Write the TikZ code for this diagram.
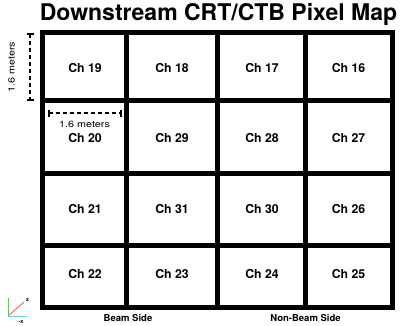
\documentclass[tikz,border=0pt]{standalone}
\usepackage{fontspec}
\setmainfont{TeX Gyre Heros}
\begin{document}
\begin{tikzpicture}[x=1pt,y=-1pt,
  frame/.style={line width=5pt},
  chlabel/.style={font=\fontsize{12.3}{12.3}\selectfont\bfseries, inner sep=0pt},
  dimline/.style={line width=2pt, dash pattern=on 4pt off 3pt},
  dimend/.style={line width=2pt},
  dimtext/.style={font=\fontsize{9}{9}\selectfont, inner sep=0pt},
  sidelabel/.style={font=\fontsize{9.5}{9.5}\selectfont\bfseries, inner sep=0pt, anchor=base}]
\useasboundingbox (0,0) rectangle (403,325);
\fill[white] (0,0) rectangle (403,325);
% title
\node[font=\fontsize{23}{23}\selectfont\bfseries, inner sep=0pt, anchor=base] (title) at (218.5,20) {Downstream CRT/CTB Pixel Map};
% grid
\coordinate (tl) at (42.5,32.5);
\coordinate (br) at (392.5,307.5);
\draw[frame] (tl) rectangle (br);
\foreach \x in {126.5,217.5,305.5} \draw[frame] (\x,32.5) -- (\x,307.5);
\foreach \y in {100.5,173.5,245} \draw[frame] (42.5,\y) -- (392.5,\y);
% labels
\node[chlabel] (c19) at (85,68) {Ch 19};
\node[chlabel] (c18) at (172,68) {Ch 18};
\node[chlabel] (c17) at (262,68) {Ch 17};
\node[chlabel] (c16) at (348.5,68) {Ch 16};
\node[chlabel] (c20) at (85,138) {Ch 20};
\node[chlabel] (c29) at (172,138) {Ch 29};
\node[chlabel] (c28) at (262,138) {Ch 28};
\node[chlabel] (c27) at (348.5,138) {Ch 27};
\node[chlabel] (c21) at (85,209) {Ch 21};
\node[chlabel] (c31) at (172,209) {Ch 31};
\node[chlabel] (c30) at (262,209) {Ch 30};
\node[chlabel] (c26) at (348.5,209) {Ch 26};
\node[chlabel] (c22) at (85,274) {Ch 22};
\node[chlabel] (c23) at (172,274) {Ch 23};
\node[chlabel] (c24) at (262,274) {Ch 24};
\node[chlabel] (c25) at (348.5,274) {Ch 25};
% vertical dimension
\coordinate (vt) at (30,33.5);
\coordinate (vb) at (30,99.5);
\draw[dimline] (vt) -- (vb);
\draw[dimend] ([xshift=-3.5pt]vt) -- ([xshift=3.5pt]vt);
\draw[dimend] ([xshift=-3.5pt]vb) -- ([xshift=3.5pt]vb);
\node[dimtext, rotate=90] (vtext) at (11.5,67) {\scalebox{1.2}[1]{1.6 meters}};
% horizontal dimension
\coordinate (hl) at (48.5,113);
\coordinate (hr) at (120.5,113);
\draw[dimline] (hl) -- (hr);
\draw[dimend] ([yshift=-3.5pt]hl) -- ([yshift=3.5pt]hl);
\draw[dimend] ([yshift=-3.5pt]hr) -- ([yshift=3.5pt]hr);
\node[dimtext] (htext) at (84.5,124) {\scalebox{1.2}[1]{1.6 meters}};
% side labels
\node[sidelabel] (beam) at (128,321.5) {Beam Side};
\node[sidelabel] (nonbeam) at (305.5,321.5) {Non-Beam Side};
% axes
\coordinate (o) at (8,316);
\coordinate (ay) at (8,298);
\coordinate (az) at (24,302);
\coordinate (ax) at (27,316);
\draw[line width=1pt, green!60!black!60] (o) -- (ay);
\draw[line width=1pt, red!60] (o) -- (az);
\draw[line width=1pt, cyan!60] (o) -- (ax);
\node[font=\fontsize{5.5}{5.5}\selectfont\bfseries, inner sep=0pt] (zl) at (27.5,300.5) {z};
\node[font=\fontsize{5.5}{5.5}\selectfont\bfseries, inner sep=0pt] (xl) at (21,322.5) {-x};
\end{tikzpicture}
\end{document}
